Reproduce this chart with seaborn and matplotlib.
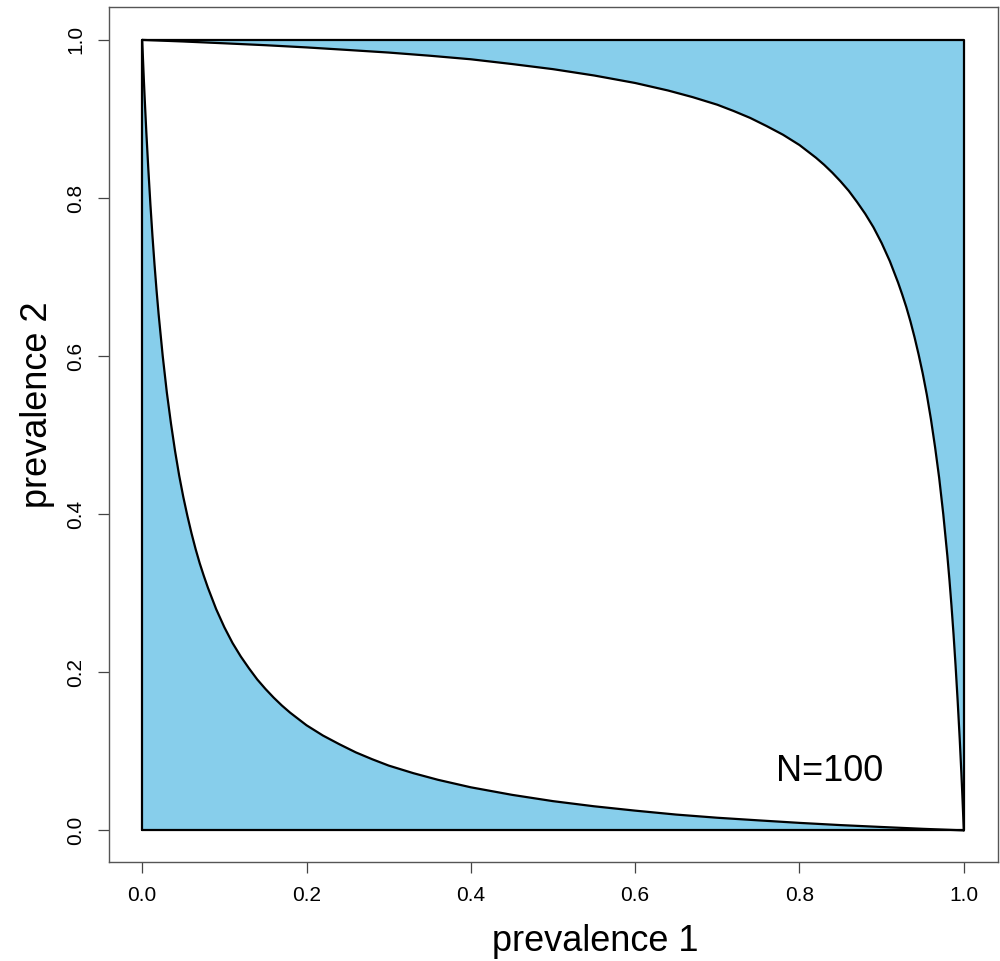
import matplotlib
matplotlib.use("Agg")
import matplotlib.pyplot as plt
import seaborn as sns
import pandas as pd

sns.set_theme(style="white")
plt.rcParams['font.family'] = ['Liberation Sans', 'DejaVu Sans']
plt.rcParams['text.color'] = 'black'
plt.rcParams['axes.labelcolor'] = 'black'

# lower boundary curve (prevalence 1 -> prevalence 2)
low_x = [0.0, 0.001, 0.002, 0.003, 0.005, 0.0075, 0.01, 0.0125, 0.015, 0.0175, 0.02,
         0.025, 0.03, 0.035, 0.04, 0.045, 0.05, 0.055, 0.06, 0.065, 0.07, 0.075, 0.08,
         0.09, 0.10, 0.11, 0.12, 0.13, 0.14, 0.15, 0.16, 0.17, 0.18, 0.19, 0.20,
         0.22, 0.24, 0.26, 0.28, 0.30, 0.33, 0.36, 0.40, 0.45, 0.50, 0.55, 0.60,
         0.65, 0.70, 0.75, 0.80, 0.85, 0.90, 0.95, 1.0]
low_y = [1.0, 0.975, 0.950, 0.927, 0.884, 0.836, 0.792, 0.752, 0.716, 0.683, 0.653,
         0.600, 0.554, 0.515, 0.480, 0.449, 0.422, 0.398, 0.376, 0.356, 0.338, 0.322, 0.307,
         0.280, 0.257, 0.237, 0.220, 0.205, 0.191, 0.179, 0.168, 0.158, 0.149, 0.141, 0.133,
         0.120, 0.109, 0.0987, 0.090, 0.082, 0.0724, 0.064, 0.0545, 0.045, 0.037, 0.0305, 0.025,
         0.020, 0.016, 0.0127, 0.0095, 0.0067, 0.0043, 0.002, 0.0]

# upper boundary curve
up_x = [0.0, 0.05, 0.10, 0.15, 0.20, 0.25, 0.30, 0.35, 0.40, 0.45, 0.50, 0.55, 0.60,
        0.64, 0.67, 0.70, 0.72, 0.74, 0.76, 0.78, 0.80, 0.81, 0.82, 0.83, 0.84, 0.85,
        0.86, 0.87, 0.88, 0.89, 0.90, 0.91, 0.92, 0.925, 0.93, 0.935, 0.94, 0.945, 0.95,
        0.955, 0.96, 0.965, 0.97, 0.975, 0.98, 0.9825, 0.985, 0.9875, 0.99, 0.9925, 0.995,
        0.997, 0.998, 0.999, 1.0]
up_y = [1.0, 0.998, 0.9957, 0.9933, 0.9905, 0.9873, 0.984, 0.980, 0.9755, 0.9695, 0.963,
        0.955, 0.9455, 0.936, 0.9276, 0.918, 0.910, 0.9013, 0.891, 0.880, 0.867, 0.859,
        0.851, 0.842, 0.832, 0.821, 0.809, 0.795, 0.780, 0.763, 0.743, 0.720, 0.693, 0.678,
        0.662, 0.644, 0.624, 0.602, 0.578, 0.551, 0.520, 0.485, 0.446, 0.400, 0.347, 0.317,
        0.284, 0.248, 0.208, 0.164, 0.116, 0.073, 0.050, 0.025, 0.0]

# outer square
sq_x = [0, 1, 1, 0, 0]
sq_y = [0, 0, 1, 1, 0]

ticks = [0.0, 0.2, 0.4, 0.6, 0.8, 1.0]
tick_labels = ["0.0", "0.2", "0.4", "0.6", "0.8", "1.0"]
label_text = "N=100"

fill_color = "#87CEEB"

fig = plt.figure(figsize=(10, 9.61), dpi=100)
ax = fig.add_axes([0.1085, 0.103, 0.889, 0.8892])

low_df = pd.DataFrame({"x": low_x, "y": low_y})
up_df = pd.DataFrame({"x": up_x, "y": up_y})
sq_df = pd.DataFrame({"x": sq_x, "y": sq_y})

ax.fill_between(low_df["x"], 0, low_df["y"], color=fill_color, linewidth=0, zorder=1)
ax.fill_between(up_df["x"], up_df["y"], 1, color=fill_color, linewidth=0, zorder=1)

sns.lineplot(data=sq_df, x="x", y="y", sort=False, estimator=None, color="black",
             linewidth=1.6, ax=ax, zorder=3)
sns.lineplot(data=low_df, x="x", y="y", sort=False, estimator=None, color="black",
             linewidth=1.6, ax=ax, zorder=3)
sns.lineplot(data=up_df, x="x", y="y", sort=False, estimator=None, color="black",
             linewidth=1.6, ax=ax, zorder=3)

ax.text(0.837, 0.074, label_text, fontsize=26, ha="center", va="center", color="black")

ax.set_xlim(-0.041, 1.041)
ax.set_ylim(-0.04, 1.041)
ax.set_xticks(ticks)
ax.set_xticklabels(tick_labels, fontsize=15)
ax.set_yticks(ticks)
ax.set_yticklabels(tick_labels, fontsize=15, rotation=90, va="center")
ax.tick_params(axis="both", direction="out", length=8, width=0.9, color="#444444",
               labelcolor="black", bottom=True, left=True, pad=9)
for s in ax.spines.values():
    s.set_color("#555555")
    s.set_linewidth(1.0)
ax.set_xlabel("prevalence 1", fontsize=26)
ax.set_ylabel("prevalence 2", fontsize=26)
ax.xaxis.set_label_coords(0.547, -0.093, transform=ax.transAxes)
ax.yaxis.set_label_coords(-0.080, 0.535, transform=ax.transAxes)
ax.xaxis.label.set_va("center")
ax.yaxis.label.set_va("center")

fig.savefig("out.png", dpi=100)
